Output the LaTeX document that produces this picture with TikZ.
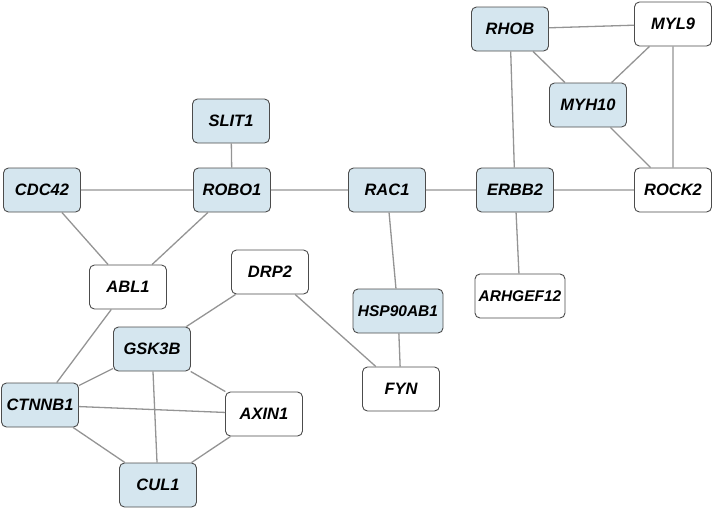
\documentclass[tikz,border=0pt]{standalone}
\usepackage{fontspec}
\setmainfont{Liberation Sans}
\begin{document}
\begin{tikzpicture}[x=1pt,y=-1pt,
  gene/.style={draw=black!70, line width=0.9pt, rounded corners=5pt, minimum width=77pt, minimum height=44pt, inner sep=0pt, font=\fontsize{16.5}{19}\selectfont\bfseries\itshape, text=black},
  hl/.style={gene, fill=hlblue},
  pl/.style={gene, fill=white},
  wide/.style={minimum width=90pt, font=\fontsize{15.5}{18}\selectfont\bfseries\itshape},
  edge/.style={draw=black!42, line width=1.3pt}]
\definecolor{hlblue}{HTML}{D5E6EF}
\useasboundingbox (0,0) rectangle (714,509);
\node[hl] (RHOB) at (510,29) {RHOB};
\node[pl] (MYL9) at (673,24) {MYL9};
\node[hl] (MYH10) at (588,105) {MYH10};
\node[hl] (SLIT1) at (231,121) {SLIT1};
\node[hl] (CDC42) at (42,190) {CDC42};
\node[hl] (ROBO1) at (232,190) {ROBO1};
\node[hl] (RAC1) at (387,190) {RAC1};
\node[hl] (ERBB2) at (515,190) {ERBB2};
\node[pl] (ROCK2) at (673,190) {ROCK2};
\node[pl] (ABL1) at (128,287) {ABL1};
\node[pl] (DRP2) at (270,272) {DRP2};
\node[hl,wide] (HSP) at (398,311) {HSP90AB1};
\node[pl,wide] (ARH) at (520,296) {ARHGEF12};
\node[hl] (GSK3B) at (152,349) {GSK3B};
\node[pl] (FYN) at (401,389) {FYN};
\node[hl] (CTNNB1) at (40,405) {CTNNB1};
\node[pl] (AXIN1) at (264,414) {AXIN1};
\node[hl] (CUL1) at (158,485) {CUL1};
\path[edge]
 (RHOB) -- (MYL9)
 (RHOB) -- (MYH10)
 (RHOB) -- (ERBB2)
 (MYL9) -- (MYH10)
 (MYL9) -- (ROCK2)
 (MYH10) -- (ROCK2)
 (ERBB2) -- (ROCK2)
 (ERBB2) -- (ARH)
 (RAC1) -- (ERBB2)
 (ROBO1) -- (RAC1)
 (SLIT1) -- (ROBO1)
 (CDC42) -- (ROBO1)
 (CDC42) -- (ABL1)
 (ROBO1) -- (ABL1)
 (RAC1) -- (HSP)
 (HSP) -- (FYN)
 (DRP2) -- (FYN)
 (DRP2) -- (GSK3B)
 (ABL1) -- (CTNNB1)
 (GSK3B) -- (CTNNB1)
 (GSK3B) -- (AXIN1)
 (GSK3B) -- (CUL1)
 (CTNNB1) -- (AXIN1)
 (CTNNB1) -- (CUL1)
 (AXIN1) -- (CUL1);
\end{tikzpicture}
\end{document}
